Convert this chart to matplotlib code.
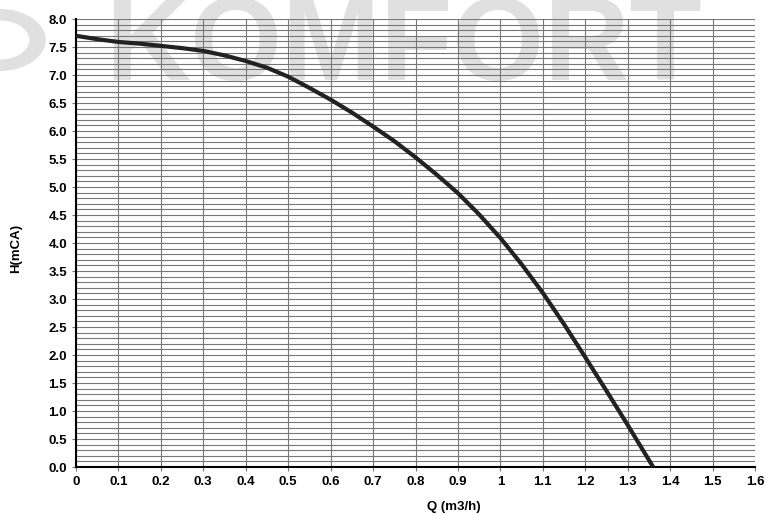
import numpy as np
import matplotlib.pyplot as plt
from matplotlib.patches import Wedge

plt.rcParams['font.family'] = ['Liberation Sans', 'DejaVu Sans']

# pump curve
q = [0.0, 0.05, 0.1, 0.15, 0.2, 0.25, 0.3, 0.35, 0.4, 0.45, 0.5, 0.55, 0.6, 0.65,
     0.7, 0.75, 0.8, 0.85, 0.9, 0.95, 1.0, 1.05, 1.1, 1.15, 1.2, 1.25, 1.3, 1.36]
h = [7.70, 7.64, 7.59, 7.56, 7.52, 7.48, 7.43, 7.35, 7.25, 7.13, 6.97, 6.77, 6.56, 6.33,
     6.08, 5.82, 5.53, 5.22, 4.89, 4.51, 4.09, 3.62, 3.11, 2.55, 1.96, 1.36, 0.75, 0.0]

x_ticks = [0, 0.1, 0.2, 0.3, 0.4, 0.5, 0.6, 0.7, 0.8, 0.9, 1, 1.1, 1.2, 1.3, 1.4, 1.5, 1.6]
x_labels = ['0', '0.1', '0.2', '0.3', '0.4', '0.5', '0.6', '0.7', '0.8', '0.9',
            '1', '1.1', '1.2', '1.3', '1.4', '1.5', '1.6']
y_ticks = np.arange(0, 8.01, 0.5)

fig = plt.figure(figsize=(7.65, 5.15), dpi=100)

# watermark behind the grid
fig.text(105 / 765, 1 - 80 / 515, 'KOMFORT', fontsize=85, fontweight='bold',
         color='#e0e0e0', ha='left', va='baseline', zorder=-5)
ring = Wedge((0, 1 - 40 / 515), 45 / 765, 0, 360, width=15 / 765,
             transform=fig.transFigure, color='#e0e0e0', zorder=-5)
fig.patches.append(ring)

ax = fig.add_axes([76 / 765, 48 / 515, 679 / 765, 448 / 515])
ax.patch.set_alpha(0)

ax.plot(q, h, color='#222222', lw=3, solid_capstyle='butt',
        solid_joinstyle='round', zorder=3)

ax.set_xlim(0, 1.6)
ax.set_ylim(0, 8)
ax.set_xticks(x_ticks)
ax.set_xticklabels(x_labels)
ax.set_yticks(y_ticks)
ax.set_yticklabels([f'{v:.1f}' for v in y_ticks])
ax.set_yticks(np.arange(0, 8.01, 0.1), minor=True)

ax.grid(True, which='major', color='#777777', lw=0.8)
ax.grid(True, which='minor', axis='y', color='#777777', lw=0.8)
ax.tick_params(axis='y', which='minor', length=0)
ax.tick_params(axis='both', which='major', length=3, width=0.8,
               labelsize=9.5, color='#777777')
for lab in ax.get_xticklabels() + ax.get_yticklabels():
    lab.set_fontweight('bold')

for s in ['top', 'right']:
    ax.spines[s].set_visible(False)
for s in ['left', 'bottom']:
    ax.spines[s].set_linewidth(1.5)
    ax.spines[s].set_color('black')

ax.set_xlabel('Q (m3/h)', fontsize=9.5, fontweight='bold', va='center')
ax.xaxis.set_label_coords(0.556, -0.089)
ax.set_ylabel('H(mCA)', fontsize=9.5, fontweight='bold', va='center')
ax.yaxis.set_label_coords(-0.088, 0.487)

fig.savefig('out.png', dpi=100)
